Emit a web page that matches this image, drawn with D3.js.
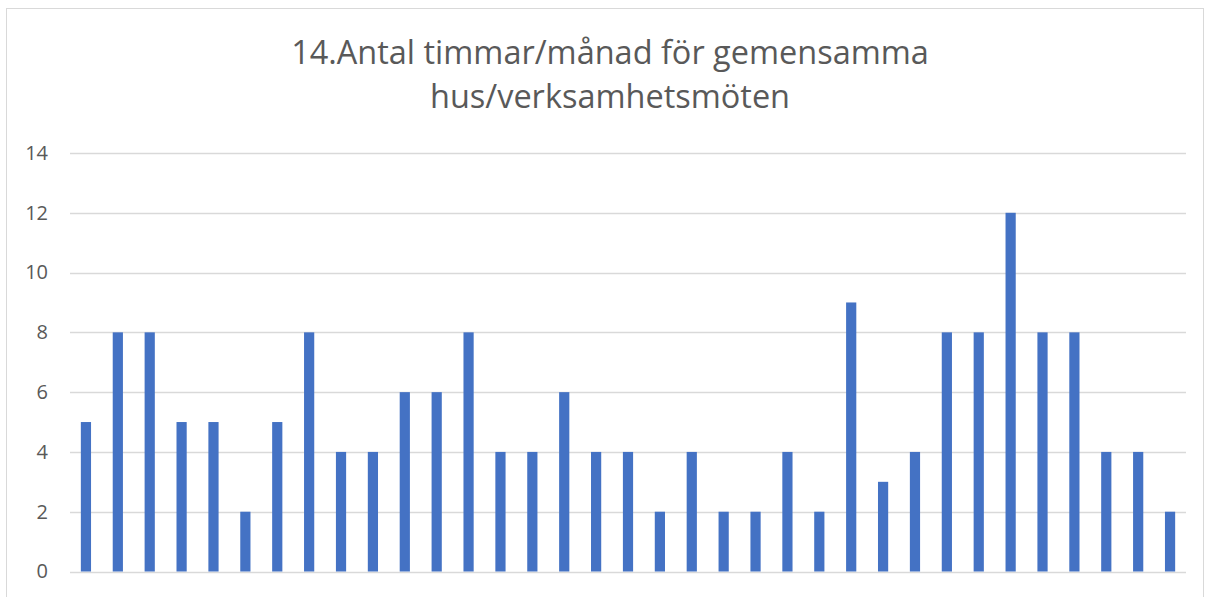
<!DOCTYPE html>
<html><head><meta charset="utf-8">
<script src="https://cdn.jsdelivr.net/npm/d3@7"></script>
<style>body{margin:0;background:#fff}svg{display:block}.yl text{font-family:'Open Sans','Noto Sans',sans-serif !important;font-size:20px !important;fill:#595959}</style>
</head><body>
<svg id="c" width="1211" height="597"></svg>
<script>
const categories = d3.range(1, 36).map(String);
const values = [5,8,8,5,5,2,5,8,4,4,6,6,8,4,4,6,4,4,2,4,2,2,4,2,9,3,4,8,8,12,8,8,4,4,2];
const yTicks = [0,2,4,6,8,10,12,14];
const titleLines = ["14.Antal timmar/månad för gemensamma", "hus/verksamhetsmöten"];

const svg = d3.select("#c");
const font = "'Open Sans', 'Noto Sans', sans-serif";
svg.append("rect").attr("x",6.5).attr("y",8.5).attr("width",1197).attr("height",600)
  .attr("fill","#fff").attr("stroke","#d9d9d9").attr("stroke-width",1);

const x = d3.scaleBand().domain(categories).range([70,1186]).paddingInner(0.68).paddingOuter(0.34);
const y = d3.scaleLinear().domain([0,14]).range([571.5,153]);

const grid = svg.append("g");
grid.selectAll("line").data(yTicks).join("line")
  .attr("x1",70).attr("x2",1186).attr("y1",d=>Math.round(y(d))+0.5).attr("y2",d=>Math.round(y(d))+0.5)
  .attr("stroke","#d9d9d9").attr("stroke-width",1.5);

const yAxis = svg.append("g").attr("class","yl").attr("transform","translate(70,0)")
  .call(d3.axisLeft(y).tickValues(yTicks).tickSize(0).tickPadding(22));
yAxis.select(".domain").remove();

svg.append("g").selectAll("rect").data(values).join("rect")
  .attr("x",(d,i)=>x(categories[i])).attr("width",x.bandwidth())
  .attr("y",d=>y(d)).attr("height",d=>y(0)-y(d))
  .attr("fill","#4472c4");

const t = svg.append("g").attr("font-family",font).attr("fill","#595959").attr("text-anchor","middle");
const t1 = t.append("text").attr("x",610).attr("y",64).attr("font-size",30).text(titleLines[0]);
const w = t1.node().getComputedTextLength();
const fs = 30*638/w;
t1.attr("font-size",fs);
t.append("text").attr("x",610).attr("y",108).attr("font-size",fs).text(titleLines[1]);
</script>
</body></html>
